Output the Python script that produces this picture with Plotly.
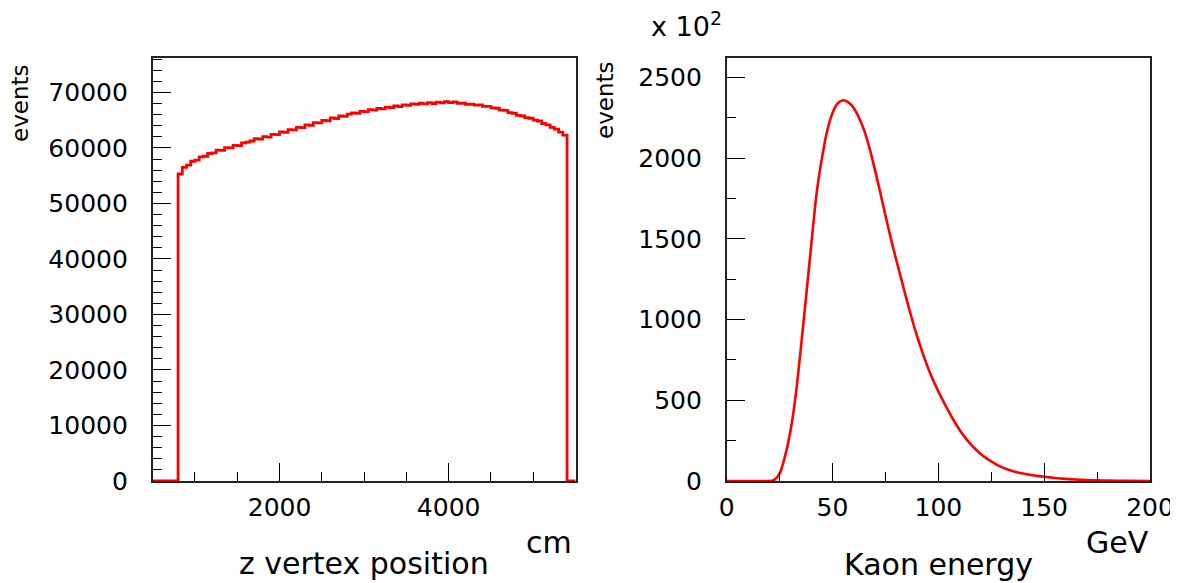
import plotly.graph_objects as go

# ---------------- data ----------------
# left: z vertex position histogram (bin left edges in cm, 50 cm bins from 800 to 5400)
z_bin_left = list(range(800, 5400, 50))
z_counts = [
    55300, 56500, 56900, 57600, 57800, 58400, 58500, 59000, 59100, 59600,
    59550, 60050, 60000, 60450, 60400, 60900, 61050, 61250, 61650, 61600,
    62050, 61950, 62450, 62400, 62900, 62800, 63300, 63250, 63700, 63650,
    64150, 64050, 64550, 64500, 64950, 64900, 65400, 65300, 65750, 65700,
    66100, 66300, 66250, 66600, 66550, 66900, 66800, 67100, 67050, 67350,
    67250, 67550, 67450, 67750, 67650, 67950, 67850, 68050, 67950, 68150,
    68000, 68250, 68100, 68350, 68150, 68300, 68050, 68050, 67850, 67900,
    67700, 67750, 67500, 67500, 67200, 67150, 66800, 66750, 66350, 66250,
    65850, 65750, 65450, 65350, 65000, 64850, 64400, 64150, 63700, 63400,
    62850, 62300,
]
z_last_edge = 5400
z_axis_range = [500, 5500]

# right: Kaon energy spectrum (GeV, events / 100)
e_gev = [0, 10, 20, 22, 23, 25, 27.5, 30, 32.5, 35, 37.5, 40, 42.5, 45, 47.5, 50,
         52.5, 55, 57.5, 60, 62.5, 65, 67.5, 70, 72.5, 75, 77.5, 80, 82.5, 85,
         87.5, 90, 92.5, 95, 97.5, 100, 102.5, 105, 107.5, 110, 112.5, 115,
         117.5, 120, 122.5, 125, 127.5, 130, 132.5, 135, 137.5, 140, 142.5, 145,
         147.5, 150, 155, 160, 165, 170, 175, 180, 190, 200]
e_counts = [0, 0, 0, 4, 12, 45, 150, 300, 520, 820, 1140, 1470, 1785, 2000, 2170, 2280,
            2340, 2358, 2345, 2310, 2250, 2170, 2060, 1930, 1790, 1645, 1505, 1375, 1250, 1125,
            1005, 895, 795, 705, 625, 555, 490, 428, 370, 318, 272, 232,
            198, 168, 143, 122, 102, 86, 73, 62, 53, 46, 40, 35,
            30, 26, 19, 13, 9, 6, 4, 3, 1, 0]

# ---------------- figure ----------------
# the page body has an 8 px margin, so the figure is drawn 8 px smaller and all
# reference pixel positions are shifted by that offset
OFF = 8
W, H = 1178 - OFF, 583 - OFF
RED = "#ff0000"
TICKFONT = dict(family="DejaVu Sans", size=25, color="black")
TITLEFONT = dict(family="DejaVu Sans", size=30, color="black")

# step histogram for left panel
zx = [z_axis_range[0]] + z_bin_left + [z_last_edge, z_axis_range[1]]
zy = [0] + z_counts + [0, 0]

fig = go.Figure()
fig.add_trace(go.Scatter(x=zx, y=zy, mode="lines", line=dict(color=RED, width=2.8, shape="hv"),
                         xaxis="x", yaxis="y", showlegend=False, hoverinfo="skip"))
fig.add_trace(go.Scatter(x=e_gev, y=e_counts, mode="lines",
                         line=dict(color=RED, width=2.6, shape="spline", smoothing=0.8),
                         xaxis="x2", yaxis="y2", showlegend=False, hoverinfo="skip"))

def px(x):
    return (x - OFF) / W

def py(y):
    return 1 - (y - OFF) / H

axis_common = dict(showline=True, linecolor="#222", linewidth=1.6, mirror=True,
                   ticks="inside", tickcolor="black", tickwidth=1.3, ticklen=18,
                   showgrid=False, zeroline=False, tickfont=TICKFONT,
                   automargin=False, exponentformat="none", separatethousands=False)

minor_common = dict(ticks="inside", ticklen=9, tickcolor="black", tickwidth=1.2)

fig.update_layout(
    width=W, height=H, margin=dict(l=0, r=0, t=0, b=0, autoexpand=False),
    paper_bgcolor="white", plot_bgcolor="white",
    xaxis=dict(domain=[px(152.7), px(575.5)], range=z_axis_range, tick0=0, dtick=2000,
               minor=dict(dtick=500, tick0=0, **minor_common),
               anchor="y", ticklabelstandoff=3, tickformat="d", **axis_common),
    yaxis=dict(domain=[py(481), py(58)], range=[0, 76200], tick0=0, dtick=10000,
               minor=dict(dtick=2000, tick0=0, **minor_common),
               anchor="x", ticklabelstandoff=18, tickformat="d", **axis_common),
    xaxis2=dict(domain=[px(726.7), px(1150)], range=[0, 200], tick0=0, dtick=50,
                minor=dict(dtick=25, tick0=0, **minor_common),
                anchor="y2", ticklabelstandoff=3, tickformat="d", **axis_common),
    yaxis2=dict(domain=[py(481), py(58)], range=[0, 2620], tick0=0, dtick=500,
                minor=dict(dtick=250, tick0=0, **minor_common),
                anchor="x2", ticklabelstandoff=18, tickformat="d", **axis_common),
)

EVFONT = dict(family="DejaVu Sans", size=23, color="black")
ann = [
    dict(text="events", x=px(20), y=py(103), textangle=-90, font=EVFONT),
    dict(text="cm", x=px(574), y=py(542), xanchor="right", font=TITLEFONT),
    dict(text="z vertex position", x=px(364), y=py(563), font=TITLEFONT),
    dict(text="events", x=px(605), y=py(100), textangle=-90, font=EVFONT),
    dict(text="x 10<sup>2</sup>", x=px(686), y=py(24), font=dict(family="DejaVu Sans", size=27, color="black")),
    dict(text="GeV", x=px(1151), y=py(542), xanchor="right", font=TITLEFONT),
    dict(text="Kaon energy", x=px(938), y=py(564), font=TITLEFONT),
]
for a in ann:
    a.setdefault("xanchor", "center")
    fig.add_annotation(xref="paper", yref="paper", showarrow=False, yanchor="middle", **a)

fig.write_html("out.html")
